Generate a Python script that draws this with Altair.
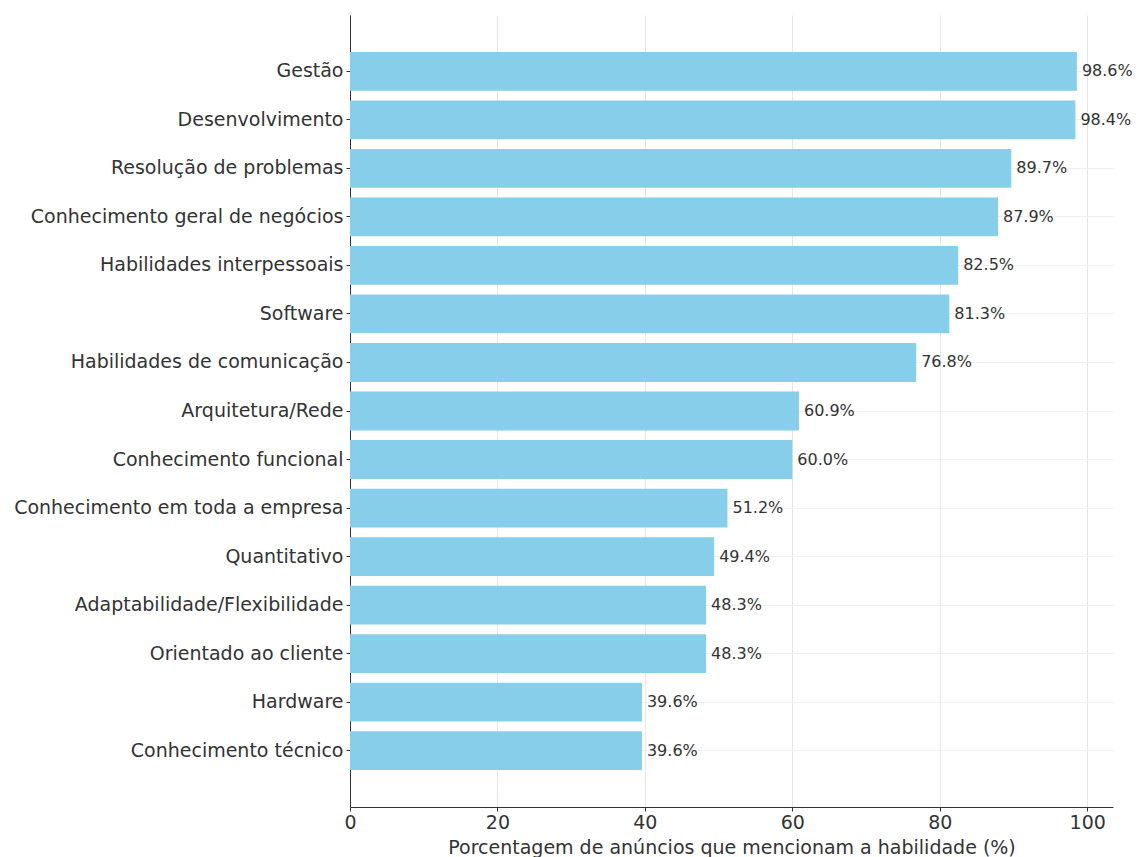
import altair as alt
import pandas as pd

skills = [
    "Gestão", "Desenvolvimento", "Resolução de problemas",
    "Conhecimento geral de negócios", "Habilidades interpessoais", "Software",
    "Habilidades de comunicação", "Arquitetura/Rede", "Conhecimento funcional",
    "Conhecimento em toda a empresa", "Quantitativo",
    "Adaptabilidade/Flexibilidade", "Orientado ao cliente", "Hardware",
    "Conhecimento técnico",
]
percentages = [98.6, 98.4, 89.7, 87.9, 82.5, 81.3, 76.8, 60.9, 60.0, 51.2,
               49.4, 48.3, 48.3, 39.6, 39.6]
x_ticks = [0, 20, 40, 60, 80, 100]

df = pd.DataFrame({"skill": skills, "pct": percentages})
FONT = "DejaVu Sans"
TXT = "#333333"

y_enc = alt.Y(
    "skill:N", sort=skills, title=None,
    scale=alt.Scale(paddingInner=0.2, paddingOuter=0.76),
    axis=alt.Axis(labelFont=FONT, labelFontSize=19, labelColor=TXT,
                  domainColor="#333333", tickColor="#333333", tickSize=4,
                  labelPadding=3, bandPosition=0.5, tickExtra=False,
                  grid=True, gridColor="#f0f0f0", labelLimit=500),
)
x_enc = alt.X(
    "pct:Q", title="Porcentagem de anúncios que mencionam a habilidade (%)",
    scale=alt.Scale(domain=[0, 103.5], nice=False, zero=True),
    axis=alt.Axis(values=x_ticks, labelFont=FONT, labelFontSize=19,
                  labelColor=TXT, titleFont=FONT, titleFontSize=19,
                  titleColor=TXT, titleFontWeight="normal",
                  domainColor="#333333", tickColor="#333333", tickSize=4,
                  labelPadding=2, titlePadding=6, gridColor="#e6e6e6",
                  labelFlush=False),
)

bars = alt.Chart(df).mark_bar(color="#87CEEB").encode(x=x_enc, y=y_enc)
labels = alt.Chart(df).transform_calculate(
    lbl="format(datum.pct, '.1f') + '%'"
).mark_text(align="left", baseline="middle", dx=5, font=FONT, fontSize=16,
            color=TXT).encode(
    x=alt.X("pct:Q"), y=alt.Y("skill:N", sort=skills), text="lbl:N"
)

chart = (bars + labels).properties(
    width=763, height=792,
    background="white",
    autosize=alt.AutoSizeParams(type="none"),
    padding={"left": 350, "top": 15, "right": 26, "bottom": 50},
).configure_view(stroke="transparent", strokeWidth=0)

chart.save("out.html", embed_options={"renderer": "svg", "actions": False})
